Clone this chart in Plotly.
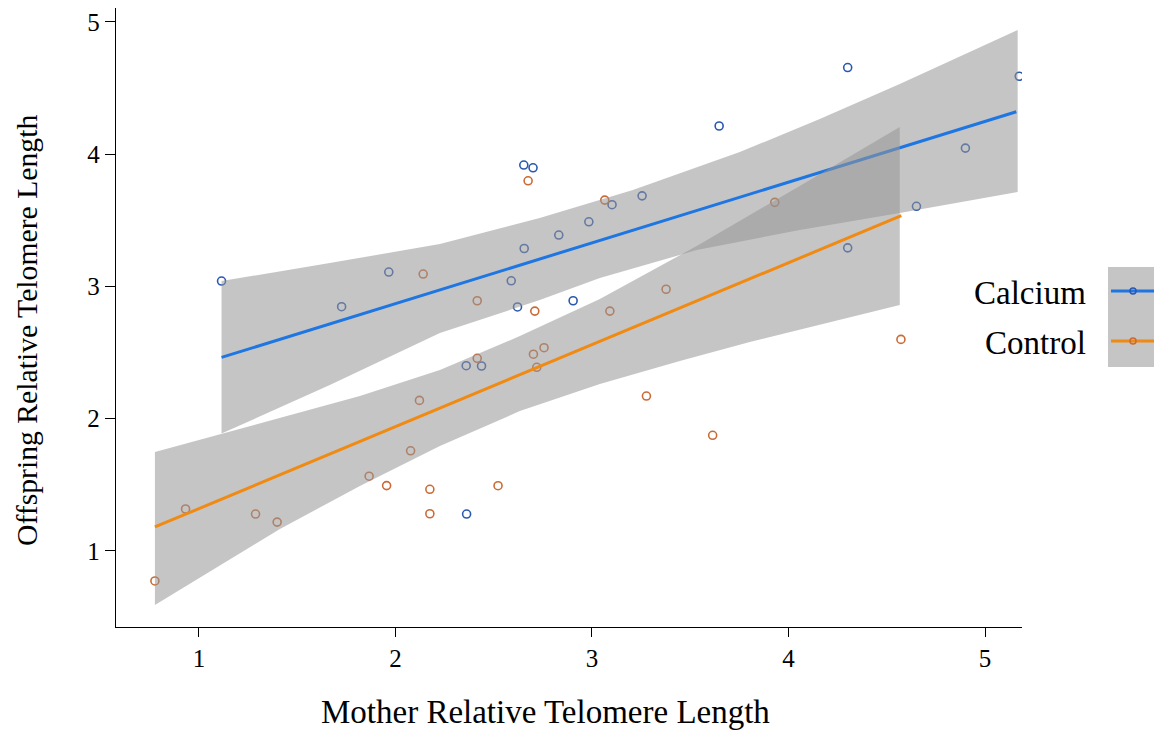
import plotly.graph_objects as go

# ---- data ----
calcium_x = [1.115, 1.726, 1.966, 2.360, 2.438, 2.362, 2.589, 2.621, 2.655, 2.653, 2.700,
             2.831, 2.904, 2.984, 3.102, 3.255, 3.647, 4.301, 4.301, 4.651, 4.900, 5.174]
calcium_y = [3.040, 2.846, 3.108, 2.400, 2.398, 1.279, 3.042, 2.844, 3.286, 3.917, 3.896,
             3.388, 2.891, 3.488, 3.617, 3.684, 4.212, 4.654, 3.291, 3.605, 4.045, 4.588]

control_x = [0.776, 0.932, 1.288, 1.398, 1.866, 1.955, 2.077, 2.122, 2.141, 2.175, 2.175,
             2.416, 2.416, 2.702, 2.756, 2.719, 2.709, 2.675, 2.522, 3.065, 3.091, 3.377,
             3.277, 3.614, 3.930, 4.572]
control_y = [0.773, 1.317, 1.279, 1.218, 1.565, 1.494, 1.757, 2.138, 3.093, 1.466, 1.281,
             2.891, 2.456, 2.487, 2.536, 2.388, 2.813, 3.798, 1.493, 3.652, 2.813, 2.978,
             2.171, 1.874, 3.635, 2.599]

# fitted lines
calcium_fit_x = [1.115, 5.159]
calcium_fit_y = [2.463, 4.320]
control_fit_x = [0.776, 4.574]
control_fit_y = [1.181, 3.534]

# confidence ribbons
calcium_upper_x = [1.115, 1.666, 2.226, 2.734, 3.208, 3.752, 4.159, 4.566, 5.166]
calcium_upper_y = [3.040, 3.176, 3.320, 3.516, 3.728, 4.015, 4.265, 4.529, 4.937]
calcium_lower_x = [1.115, 1.666, 2.226, 2.734, 3.040, 3.533, 4.057, 4.566, 5.166]
calcium_lower_y = [1.887, 2.254, 2.647, 2.896, 3.063, 3.274, 3.426, 3.554, 3.713]

control_upper_x = [0.776, 1.412, 1.819, 2.226, 2.633, 3.040, 3.533, 4.057, 4.566]
control_upper_y = [1.748, 2.004, 2.171, 2.367, 2.624, 2.904, 3.305, 3.758, 4.204]
control_lower_x = [0.776, 1.412, 1.819, 2.226, 2.633, 3.040, 3.447, 3.803, 4.210, 4.566]
control_lower_y = [0.591, 1.166, 1.491, 1.793, 2.057, 2.262, 2.435, 2.579, 2.730, 2.859]

tick_vals = [1, 2, 3, 4, 5]
tick_text = ["1", "2", "3", "4", "5"]
group_names = ["Calcium", "Control"]

# ---- styles ----
BLUE_LINE = "#1E76E3"
BLUE_PT = "#2A57B0"
ORANGE_LINE = "#F08A12"
ORANGE_PT = "#CB6A34"
RIBBON = "rgba(150,150,150,0.55)"
FONT = "Liberation Serif"

fig = go.Figure()

# points first (ribbons are drawn over them)
fig.add_trace(go.Scatter(x=calcium_x, y=calcium_y, mode="markers",
                         marker=dict(symbol="circle-open", size=8, color=BLUE_PT,
                                     line=dict(width=1.6, color=BLUE_PT)),
                         showlegend=False, hoverinfo="skip"))
fig.add_trace(go.Scatter(x=control_x, y=control_y, mode="markers",
                         marker=dict(symbol="circle-open", size=8, color=ORANGE_PT,
                                     line=dict(width=1.6, color=ORANGE_PT)),
                         showlegend=False, hoverinfo="skip"))


def ribbon(ux, uy, lx, ly):
    return go.Scatter(x=list(ux) + list(lx)[::-1], y=list(uy) + list(ly)[::-1],
                      mode="lines", fill="toself", fillcolor=RIBBON,
                      line=dict(width=0), showlegend=False, hoverinfo="skip")


fig.add_trace(ribbon(calcium_upper_x, calcium_upper_y, calcium_lower_x, calcium_lower_y))
fig.add_trace(go.Scatter(x=calcium_fit_x, y=calcium_fit_y, mode="lines",
                         line=dict(color=BLUE_LINE, width=3), showlegend=False))
fig.add_trace(ribbon(control_upper_x, control_upper_y, control_lower_x, control_lower_y))
fig.add_trace(go.Scatter(x=control_fit_x, y=control_fit_y, mode="lines",
                         line=dict(color=ORANGE_LINE, width=3), showlegend=False))

W, H = 1154, 730
L, R, T, B = 116, 132, 8, 103
pw, ph = W - L - R, H - T - B


def px(xp):
    return (xp - L) / pw


def py(yp):
    return (H - B - yp) / ph


# manual legend: keys on the right, labels to their left
shapes = []
annotations = []
key_cols = [(BLUE_LINE, BLUE_PT), (ORANGE_LINE, ORANGE_PT)]
for i, name in enumerate(group_names):
    top = 267 + i * 50
    shapes.append(dict(type="rect", xref="paper", yref="paper",
                       x0=px(1108), x1=px(1160), y0=py(top + 50), y1=py(top),
                       fillcolor=RIBBON, line=dict(width=0), layer="above"))
    lc, pc = key_cols[i]
    shapes.append(dict(type="line", xref="paper", yref="paper",
                       x0=px(1111), x1=px(1160), y0=py(top + 24), y1=py(top + 24),
                       line=dict(color=lc, width=3), layer="above"))
    shapes.append(dict(type="circle", xref="paper", yref="paper",
                       xsizemode="pixel", ysizemode="pixel",
                       xanchor=px(1133), yanchor=py(top + 24),
                       x0=-3, x1=3, y0=-3, y1=3,
                       line=dict(color=pc, width=1.5), layer="above"))
    annotations.append(dict(text=name, xref="paper", yref="paper",
                            x=px(1088), y=py(top + 26), xanchor="right", yanchor="middle",
                            showarrow=False, font=dict(family=FONT, size=33, color="black")))

annotations.append(dict(text="Mother Relative Telomere Length", xref="paper", yref="paper",
                        x=px(545), y=py(712), xanchor="center", yanchor="middle",
                        showarrow=False, font=dict(family=FONT, size=33, color="black")))
annotations.append(dict(text="Offspring Relative Telomere Length", xref="paper", yref="paper",
                        x=px(27), y=py(331), xanchor="center", yanchor="middle", textangle=-90,
                        showarrow=False, font=dict(family=FONT, size=29.7, color="black")))

fig.update_layout(
    width=W, height=H,
    margin=dict(l=L, r=R, t=T, b=B, pad=0),
    paper_bgcolor="white", plot_bgcolor="white",
    showlegend=False,
    shapes=shapes, annotations=annotations,
    xaxis=dict(range=[0.578, 5.188], tickvals=tick_vals, ticktext=tick_text,
               showgrid=False, zeroline=False, showline=True, linecolor="black", linewidth=1.3,
               ticks="outside", ticklen=9, tickwidth=1, tickcolor="black",
               tickfont=dict(family=FONT, size=25, color="black")),
    yaxis=dict(range=[0.425, 5.104], tickvals=tick_vals, ticktext=tick_text,
               showgrid=False, zeroline=False, showline=True, linecolor="black", linewidth=1.3,
               ticks="outside", ticklen=10, tickwidth=1.3, tickcolor="black",
               tickfont=dict(family=FONT, size=25, color="black")),
)

fig.write_html("out.html")
